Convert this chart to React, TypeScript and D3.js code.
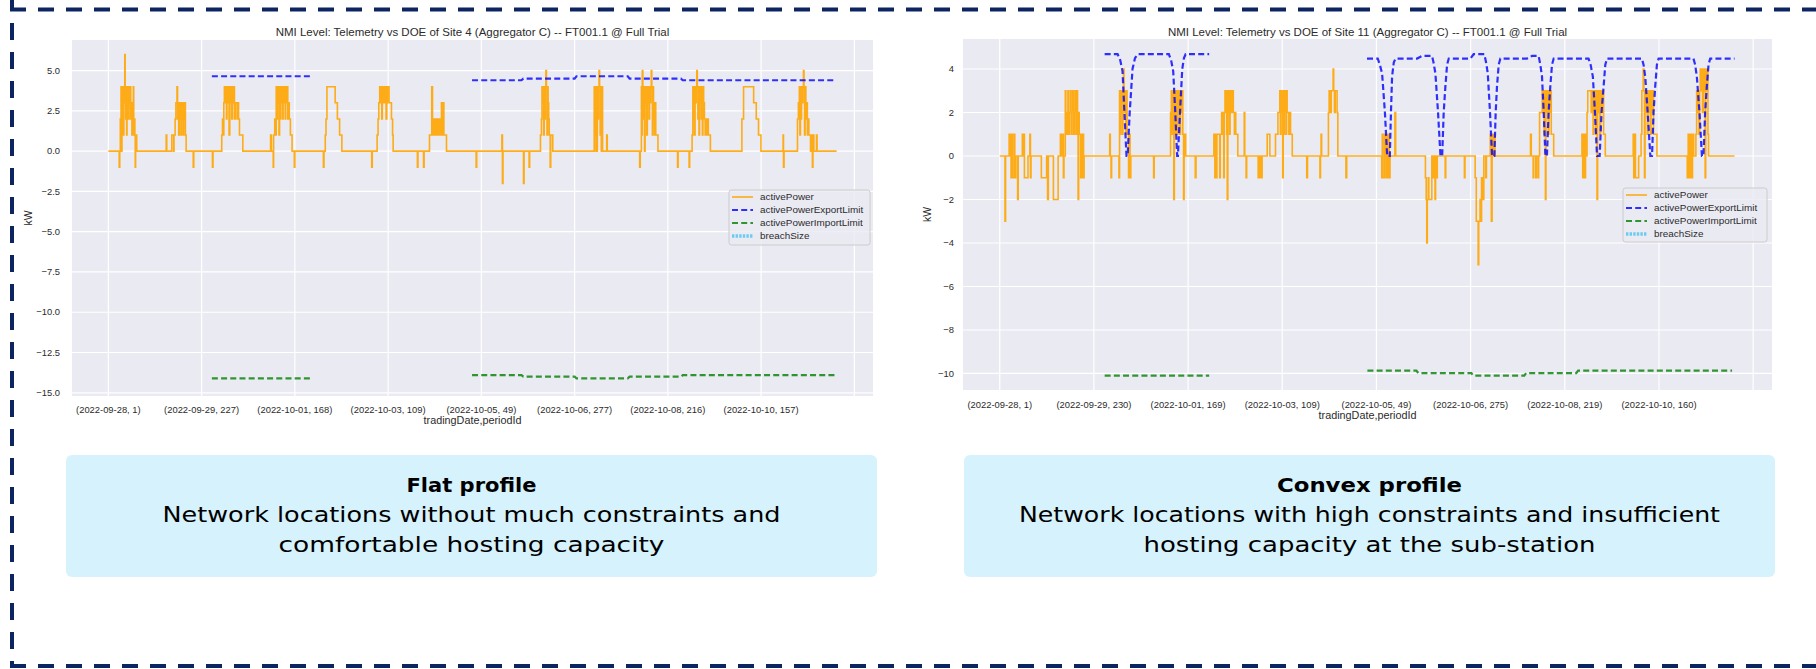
import React from "react";
import * as d3 from "d3";

type Pt = [number, number];
type LimPt = [number, number | null];

// ---------- data ----------
const legendNames = ["activePower", "activePowerExportLimit", "activePowerImportLimit", "breachSize"];

const titleA = "NMI Level: Telemetry vs DOE of Site 4 (Aggregator C) -- FT001.1 @ Full Trial";
const titleB = "NMI Level: Telemetry vs DOE of Site 11 (Aggregator C) -- FT001.1 @ Full Trial";

const xTickIndex = [0, 500, 1000, 1500, 2000, 2500, 3000, 3500, 4000];
const xLabelsA = ["(2022-09-28, 1)", "(2022-09-29, 227)", "(2022-10-01, 168)", "(2022-10-03, 109)", "(2022-10-05, 49)", "(2022-10-06, 277)", "(2022-10-08, 216)", "(2022-10-10, 157)", ""];
const xLabelsB = ["(2022-09-28, 1)", "(2022-09-29, 230)", "(2022-10-01, 169)", "(2022-10-03, 109)", "(2022-10-05, 49)", "(2022-10-06, 275)", "(2022-10-08, 219)", "(2022-10-10, 160)", ""];
const yTicksA = [5, 2.5, 0, -2.5, -5, -7.5, -10, -12.5, -15];
const yTicksB = [4, 2, 0, -2, -4, -6, -8, -10];

// Site 4 activePower (index, kW)
const powerA: Pt[] = [
  [0,0],[58,-1],[61,0],
  [64,2],[68,4],[71,0],[73,4],[76,2],[78,4],[81,1],[83,4],[86,3],[88,6],[90,4],[93,2],[95,4],[98,1],[100,4],[103,3],[106,4],[108,2],[111,4],[114,3],[117,4],[120,2],[123,3],[126,1],[128,3],[131,2],[134,4],[136,1],[140,2],[142,1],[144,-1],[146,1],[152,0],
  [310,1],[313,0],[340,1],[350,0],[352,1],[358,2],[362,3],[368,4],[371,2],[374,3],[377,1],[380,3],[383,2],[386,3],[389,1],[392,3],[395,2],[398,3],[401,1],[404,3],[407,2],[410,3],[413,1],[417,0],
  [455,-1],[458,0],[558,-1],[561,0],
  [608,1],[612,2],[616,1],[619,3],[622,4],[626,3],[629,4],[633,2],[636,4],[640,3],[643,4],[647,1],[651,4],[654,3],[658,4],[661,2],[665,4],[668,3],[672,4],[676,2],[680,3],[690,2],[695,3],[698,2],[703,1],[721,0],
  [870,1],[874,0],[884,-1],[886,1],[892,2],[896,1],[900,4],[903,2],[906,4],[909,3],[912,4],[915,1],[918,4],[921,2],[924,4],[927,3],[930,4],[934,2],[937,4],[941,3],[944,4],[948,2],[951,4],[955,3],[958,4],[962,2],[966,3],[970,2],[976,1],[985,0],[997,-1],[1000,0],
  [1153,-1],[1156,0],[1163,1],[1167,2],[1172,4],[1216,3],[1228,2],[1240,1],[1252,0],
  [1412,-1],[1415,0],
  [1441,1],[1446,2],[1450,3],[1455,4],[1459,3],[1462,4],[1466,2],[1469,4],[1473,3],[1477,4],[1481,3],[1485,4],[1489,2],[1493,4],[1497,3],[1501,4],[1505,3],[1518,2],[1524,1],[1527,0],
  [1657,-1],[1660,0],[1690,-1],[1693,0],
  [1722,1],[1734,4],[1738,1],[1742,2],[1746,1],[1750,2],[1756,1],[1762,2],[1768,1],[1772,2],[1778,1],[1786,3],[1792,1],[1795,3],[1799,1],[1813,0],
  [1972,-1],[1975,0],
  [2110,1],[2113,-2],[2116,0],
  [2226,-2],[2229,0],[2256,-1],[2259,0],
  [2317,1],[2322,2],[2325,4],[2328,3],[2331,4],[2334,1],[2337,4],[2340,2],[2343,4],[2346,5],[2349,4],[2352,1],[2355,4],[2358,3],[2361,2],[2364,1],[2369,-1],[2372,1],[2383,0],
  [2605,4],[2608,0],[2610,4],[2613,1],[2616,4],[2619,0],[2622,4],[2625,2],[2628,4],[2631,5],[2634,4],[2637,1],[2640,4],[2643,0],[2646,4],[2650,0],[2672,1],[2675,0],
  [2849,-1],[2852,0],
  [2858,4],[2861,1],[2863,5],[2866,4],[2869,2],[2872,4],[2875,0],[2878,4],[2881,3],[2884,4],[2887,1],[2890,4],[2893,3],[2896,4],[2899,2],[2902,4],[2905,3],[2908,4],[2911,5],[2914,4],[2917,1],[2920,4],[2923,2],[2926,3],[2929,1],[2932,3],[2935,1],[2947,0],
  [3052,-1],[3055,0],[3114,-1],[3117,0],
  [3130,1],[3134,4],[3137,2],[3140,4],[3143,1],[3146,4],[3149,3],[3152,4],[3155,5],[3158,4],[3161,2],[3164,4],[3167,1],[3170,4],[3173,3],[3176,4],[3179,2],[3182,4],[3185,1],[3188,4],[3192,3],[3196,2],[3200,1],[3204,2],[3208,1],[3213,2],[3217,1],[3228,0],
  [3397,2],[3406,4],[3460,3],[3474,2],[3486,1],[3499,0],
  [3618,1],[3620,-1],[3623,0],
  [3695,2],[3700,3],[3705,4],[3708,1],[3711,4],[3714,2],[3717,4],[3720,3],[3724,4],[3727,5],[3730,4],[3733,1],[3736,4],[3740,2],[3744,3],[3748,1],[3752,2],[3756,1],[3765,0],[3768,1],[3775,-1],[3778,1],[3783,0],[3797,1],[3800,0],[3905,0],
];

const exportA: LimPt[] = [[555,4.65],[1095,4.65],[1096,null],[1950,4.4],[2215,4.4],[2225,4.5],[2500,4.5],[2510,4.65],[2785,4.65],[2795,4.5],[3070,4.5],[3080,4.4],[3900,4.4]];
const importA: LimPt[] = [[555,-14.1],[1095,-14.1],[1096,null],[1950,-13.9],[2215,-13.9],[2225,-14.0],[2500,-14.0],[2510,-14.1],[2785,-14.1],[2795,-14.0],[3070,-14.0],[3080,-13.9],[3900,-13.9]];

// Site 11 activePower (index, kW)
const powerB: Pt[] = [
  [0,0],[28,-3],[31,0],
  [50,1],[54,0],[56,1],[60,-1],[64,1],[67,-1],[72,-1],[76,1],[80,-1],[85,0],[95,-2],[98,0],
  [120,1],[124,0],[128,1],[131,-1],[145,-1],[150,0],[160,1],[163,-1],[166,0],
  [221,-1],[249,0],[254,-2],[258,0],[285,-2],[310,0],[322,1],[326,0],
  [333,1],[338,-1],[341,0],[348,3],[351,1],[354,2],[358,1],[362,3],[365,2],[368,1],[371,2],[375,3],[378,2],[381,1],[384,2],[387,3],[390,2],[393,1],[396,2],[399,3],[402,2],[405,1],[408,2],[410,3],[413,2],[416,-2],[419,2],[422,1],[430,-1],[433,1],[438,-1],[441,1],[445,-1],[448,0],
  [584,1],[587,0],[591,-1],[594,0],
  [633,-1],[636,3],[639,1],[642,3],[645,2],[648,3],[651,1],[654,3],[657,4],[660,3],[663,2],[666,3],[669,1],[672,3],[676,1],[684,-1],[688,1],[692,-1],[696,0],
  [817,-1],[820,0],
  [907,2],[911,3],[914,1],[917,3],[921,2],[924,-2],[927,3],[930,1],[934,3],[937,2],[940,3],[943,1],[946,3],[950,2],[953,3],[956,1],[960,3],[964,2],[968,3],[972,1],[976,-2],[979,1],[987,0],
  [1038,-1],[1042,0],
  [1137,1],[1142,-1],[1145,1],[1150,-1],[1153,1],[1168,-1],[1171,1],[1178,2],[1183,1],[1186,2],[1189,-1],[1192,2],[1196,3],[1199,2],[1202,3],[1205,1],[1208,-2],[1211,3],[1214,2],[1217,3],[1220,1],[1223,3],[1226,2],[1229,3],[1232,2],[1236,3],[1240,2],[1246,1],[1249,2],[1253,1],[1264,0],[1298,2],[1301,0],[1308,-1],[1311,0],
  [1372,-1],[1376,0],[1380,-1],[1384,0],[1390,-1],[1393,0],[1420,1],[1434,0],
  [1464,1],[1477,2],[1487,3],[1490,1],[1493,3],[1496,2],[1499,3],[1502,-1],[1505,3],[1508,1],[1511,3],[1514,2],[1517,3],[1520,1],[1523,3],[1526,2],[1535,1],[1538,2],[1544,1],[1553,0],
  [1630,-1],[1634,0],
  [1700,-1],[1703,0],[1706,1],[1709,0],
  [1745,2],[1749,3],[1756,2],[1760,3],[1770,4],[1773,3],[1777,2],[1781,3],[1791,2],[1795,0],
  [1838,-1],[1842,0],
  [2028,-1],[2031,1],[2034,-1],[2040,-1],[2043,1],[2046,0],[2049,1],[2052,-1],[2056,1],[2060,-1],[2064,1],[2068,-1],[2072,0],[2098,2],[2102,0],
  [2260,-1],[2264,-2],[2267,-4],[2270,-2],[2275,-1],[2278,-2],[2290,-2],[2294,0],[2300,-1],[2304,0],[2311,-2],[2314,0],[2320,-1],[2323,0],
  [2365,-1],[2368,0],[2467,-1],[2470,0],
  [2524,-1],[2530,-3],[2540,-5],[2543,-3],[2550,-2],[2553,-3],[2558,-1],[2566,-2],[2570,0],[2580,-1],[2584,0],[2604,1],[2610,-3],[2614,1],[2620,0],[2625,1],[2630,0],
  [2818,1],[2822,0],[2832,-1],[2835,0],[2846,-1],[2849,0],[2858,-1],[2861,0],
  [2866,2],[2880,3],[2884,2],[2887,3],[2890,1],[2894,3],[2897,-2],[2900,3],[2904,2],[2908,3],[2912,1],[2916,3],[2920,2],[2924,3],[2928,1],[2941,0],
  [3091,1],[3095,-1],[3100,1],[3104,-1],[3110,1],[3114,0],
  [3118,2],[3122,3],[3140,2],[3143,3],[3150,1],[3153,3],[3157,2],[3160,3],[3164,1],[3168,3],[3171,-2],[3174,3],[3178,2],[3182,3],[3186,1],[3190,3],[3194,2],[3198,3],[3206,1],[3215,0],
  [3363,1],[3366,-1],[3372,1],[3375,-1],[3388,-1],[3392,0],
  [3405,1],[3409,3],[3416,4],[3420,3],[3423,-1],[3426,3],[3430,2],[3434,3],[3438,1],[3442,3],[3446,2],[3450,3],[3454,1],[3458,3],[3462,2],[3466,3],[3471,1],[3489,0],
  [3650,-1],[3655,1],[3660,-1],[3666,1],[3672,-1],[3678,1],[3684,0],
  [3696,1],[3700,3],[3704,2],[3708,3],[3712,1],[3716,3],[3719,4],[3723,3],[3727,4],[3731,2],[3735,4],[3739,3],[3743,4],[3745,-1],[3748,4],[3752,3],[3756,4],[3760,1],[3763,0],
  [3901,0],
];

const exportB: LimPt[] = [
  [557,4.68],[626,4.68],[640,4.4],[652,3.9],[662,2],[673,0],[679,0],[690,2],[705,4],[718,4.5],[732,4.68],
  [898,4.68],[910,4.4],[921,3.9],[932,2],[942,0],[946,0],[957,2],[969,4],[978,4.5],[987,4.68],[1112,4.68],[1113,null],
  [1950,4.48],[2007,4.48],[2018,4.2],[2030,3.8],[2045,2],[2057,0],[2071,0],[2077,2],[2083,3.65],[2092,4.3],[2101,4.48],
  [2216,4.48],[2242,4.6],[2295,4.6],[2303,4.3],[2313,3.8],[2327,2],[2340,0],[2349,0],[2357,2],[2366,3.2],[2375,4.2],[2384,4.48],
  [2499,4.48],[2516,4.68],[2573,4.68],[2582,4.3],[2591,3.8],[2603,2],[2614,0],[2626,0],[2633,2],[2640,3.2],[2649,4.2],[2658,4.48],
  [2799,4.48],[2826,4.6],[2861,4.6],[2870,4.2],[2879,3.65],[2888,2],[2897,0],[2905,0],[2914,2],[2923,3.2],[2932,4.2],[2941,4.48],
  [3126,4.48],[3137,4.2],[3149,3.65],[3160,2],[3171,0],[3185,0],[3195,2],[3206,3.2],[3215,4.2],[3224,4.48],
  [3409,4.48],[3418,4.2],[3427,3.65],[3440,2],[3454,0],[3463,0],[3471,2],[3480,3.2],[3489,4.2],[3498,4.48],
  [3683,4.48],[3692,4.2],[3701,3.65],[3715,2],[3728,0],[3736,0],[3745,2],[3754,3.2],[3763,4.2],[3772,4.48],[3901,4.48],
];
const importB: LimPt[] = [[557,-10.1],[1112,-10.1],[1113,null],[1952,-9.87],[2212,-9.87],[2222,-9.98],[2504,-9.98],[2514,-10.1],[2785,-10.1],[2795,-9.98],[3061,-9.98],[3071,-9.87],[3888,-9.87]];

const captionTitles = ["Flat profile", "Convex profile"];
const captionLinesA = ["Network locations without much constraints and", "comfortable hosting capacity"];
const captionLinesB = ["Network locations with high constraints and insufficient", "hosting capacity at the sub-station"];

// ---------- components ----------
const FONT = "'Liberation Sans', Arial, sans-serif";
const TXT = "#2b2b2b";

function Chart(props: any) {
  const { title, power, exp, imp, xLabels, yTicks, yFmt, yDomain, box, legend, tickY, axisY, yLabelX, yTickX, id } = props;
  const x = d3.scaleLinear().domain([-195, 4100]).range([box.left, box.right]);
  const y = d3.scaleLinear().domain(yDomain).range([box.bottom, box.top]);
  const pLine = d3.line<Pt>().x((d) => x(d[0])).y((d) => y(d[1])).curve(d3.curveStepAfter);
  const lLine = d3.line<LimPt>().defined((d) => d[1] !== null).x((d) => x(d[0])).y((d) => y(d[1] as number));
  const cx = (box.left + box.right) / 2;
  const cy = (box.top + box.bottom) / 2;
  const fmt = d3.format(yFmt);
  return (
    <g>
      <rect x={box.left} y={box.top} width={box.right - box.left} height={box.bottom - box.top} fill="#eaeaf2" />
      {yTicks.map((t: number) => (
        <line key={"gy" + t} x1={box.left} x2={box.right} y1={y(t)} y2={y(t)} stroke="#fff" strokeWidth={1.2} />
      ))}
      {xTickIndex.map((t) => (
        <line key={"gx" + t} x1={x(t)} x2={x(t)} y1={box.top} y2={box.bottom} stroke="#fff" strokeWidth={1.2} />
      ))}
      <clipPath id={id}>
        <rect x={box.left} y={box.top} width={box.right - box.left} height={box.bottom - box.top} />
      </clipPath>
      <g clipPath={`url(#${id})`}>
        <path d={pLine(power) || ""} fill="none" stroke="#ffa500" strokeOpacity={0.9} strokeWidth={1.6} />
        <path d={lLine(exp) || ""} fill="none" stroke="blue" strokeOpacity={0.8} strokeWidth={2.2} strokeDasharray="6 3.2" />
        <path d={lLine(imp) || ""} fill="none" stroke="green" strokeOpacity={0.8} strokeWidth={2.2} strokeDasharray="6 3.2" />
      </g>
      {yTicks.map((t: number) => (
        <text key={"ty" + t} x={yTickX} y={y(t)} dy="0.34em" textAnchor="end" fontFamily={FONT} fontSize={9.4} fill={TXT}>
          {fmt(t)}
        </text>
      ))}
      {xTickIndex.map((t, i) => (
        <text key={"tx" + t} x={x(t)} y={tickY} textAnchor="middle" fontFamily={FONT} fontSize={9.4} fill={TXT}>
          {xLabels[i]}
        </text>
      ))}
      <text x={cx} y={axisY} textAnchor="middle" fontFamily={FONT} fontSize={10.8} fill={TXT}>
        tradingDate,periodId
      </text>
      <text transform={`translate(${yLabelX},${cy}) rotate(-90)`} textAnchor="middle" fontFamily={FONT} fontSize={10.5} fill={TXT}>
        kW
      </text>
      <text x={cx} y={35.5} textAnchor="middle" fontFamily={FONT} fontSize={11.5} fill={TXT}>
        {title}
      </text>
      <g>
        <rect x={legend.x} y={legend.y} width={legend.w} height={legend.h} rx={2.5} fill="#eaeaf2" fillOpacity={0.8} stroke="#cccccc" strokeWidth={1} />
        {legendNames.map((n, i) => {
          const ly = legend.y + 7 + i * 13;
          const col = ["#ffa500", "blue", "green", "#4cc3ef"][i];
          const dash = [undefined, "6 3.2", "6 3.2", "2.4 1.2"][i];
          const w = [1.6, 2.2, 2.2, 3.6][i];
          return (
            <g key={n}>
              <line x1={legend.x + 3} x2={legend.x + 24} y1={ly} y2={ly} stroke={col} strokeOpacity={i === 0 ? 0.9 : 0.8} strokeWidth={w} strokeDasharray={dash} />
              <text x={legend.x + 31} y={ly} dy="0.34em" fontFamily={FONT} fontSize={9.9} fill={TXT}>
                {n}
              </text>
            </g>
          );
        })}
      </g>
    </g>
  );
}

function Caption(props: any) {
  const { x0, x1, title, lines, widths } = props;
  const cx = (x0 + x1) / 2;
  const CF = "'DejaVu Sans', Verdana, sans-serif";
  return (
    <g>
      <rect x={x0} y={455} width={x1 - x0} height={122} rx={6} fill="#d6f2fc" />
      <text x={cx} y={492} textAnchor="middle" fontFamily={CF} fontWeight="bold" fontSize={20} fill="#000" textLength={widths[0]} lengthAdjust="spacingAndGlyphs">
        {title}
      </text>
      {lines.map((l: string, i: number) => (
        <text key={i} x={cx} y={522 + i * 29.5} textAnchor="middle" fontFamily={CF} fontSize={20.5} fill="#000" textLength={widths[i + 1]} lengthAdjust="spacingAndGlyphs">
          {l}
        </text>
      ))}
    </g>
  );
}

export default function App() {
  const navy = "#0c2460";
  return (
    <svg width={1816} height={669} style={{ position: "absolute", left: 0, top: 0 }}>
      <rect width={1816} height={669} fill="#fff" />
      <Chart
        id="clipA"
        title={titleA}
        power={powerA}
        exp={exportA}
        imp={importA}
        xLabels={xLabelsA}
        yTicks={yTicksA}
        yFmt=".1f"
        yDomain={[-15.2, 6.9]}
        box={{ left: 72, right: 873, top: 40, bottom: 396 }}
        legend={{ x: 729, y: 190, w: 141, h: 55 }}
        tickY={412.5}
        axisY={424}
        yLabelX={32}
        yTickX={60}
      />
      <Chart
        id="clipB"
        title={titleB}
        power={powerB}
        exp={exportB}
        imp={importB}
        xLabels={xLabelsB}
        yTicks={yTicksB}
        yFmt="d"
        yDomain={[-10.76, 5.38]}
        box={{ left: 963, right: 1772, top: 39, bottom: 390 }}
        legend={{ x: 1623, y: 188, w: 144, h: 54 }}
        tickY={407.5}
        axisY={419}
        yLabelX={931}
        yTickX={954}
      />
      <Caption x0={66} x1={877} title={captionTitles[0]} lines={captionLinesA} widths={[130, 618, 386]} />
      <Caption x0={964} x1={1775} title={captionTitles[1]} lines={captionLinesB} widths={[185, 701, 452]} />
      <line x1={10} x2={1816} y1={9.5} y2={9.5} stroke={navy} strokeWidth={4} strokeDasharray="16 12" />
      <line x1={12} x2={12} y1={-6} y2={668} stroke={navy} strokeWidth={4} strokeDasharray="17 12" />
      <line x1={10} x2={1816} y1={666} y2={666} stroke={navy} strokeWidth={4} strokeDasharray="16 12" />
    </svg>
  );
}
